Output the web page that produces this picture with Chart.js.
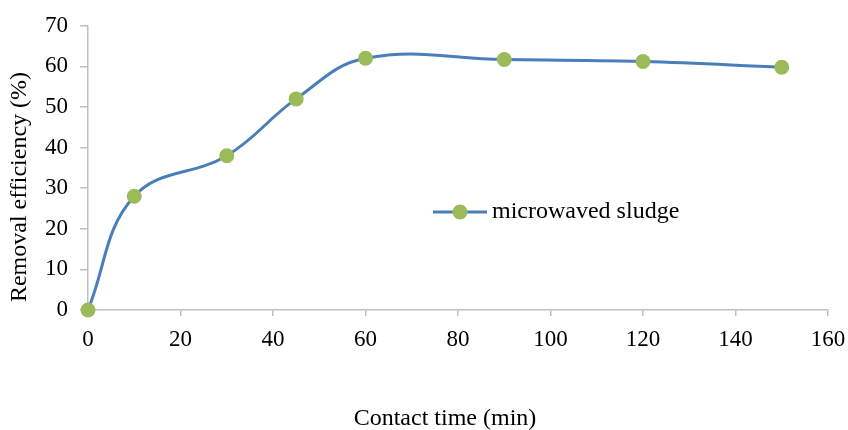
<!DOCTYPE html>
<html>
<head>
<meta charset="utf-8">
<script src="https://cdn.jsdelivr.net/npm/chart.js@4"></script>
<style>
  html, body { margin: 0; padding: 0; background: #fff; }
  #wrap { width: 848px; height: 430px; position: relative; }
</style>
</head>
<body>
<div id="wrap"><canvas id="chart"></canvas></div>
<script>
// contact time (min) and removal efficiency (%)
const times = [0, 10, 30, 45, 60, 90, 120, 150];
const efficiency = [0, 28, 38, 52, 62, 61.7, 61.2, 59.8];
const seriesName = 'microwaved sludge';
const xTitle = 'Contact time (min)';
const yTitle = 'Removal efficiency (%)';

const FONT = "'Liberation Serif', 'Times New Roman', serif";
const LINE = '#4a7ebb';
const MARK = '#9bbb59';
const AXIS = '#bfbfbf';

// titles + legend drawn in place, like the Excel original
const extras = {
  id: 'extras',
  afterDraw(chart) {
    const ctx = chart.ctx;
    ctx.save();
    ctx.fillStyle = '#000';
    ctx.font = '24px ' + FONT;
    ctx.textAlign = 'center';
    ctx.textBaseline = 'middle';
    ctx.fillText(xTitle, 445, 419);
    ctx.translate(20, 187);
    ctx.rotate(-Math.PI / 2);
    ctx.fillText(yTitle, 0, 0);
    ctx.restore();

    // legend
    const ds = chart.data.datasets[0];
    ctx.save();
    ctx.strokeStyle = ds.borderColor;
    ctx.lineWidth = 3;
    ctx.beginPath();
    ctx.moveTo(433, 212);
    ctx.lineTo(487, 212);
    ctx.stroke();
    ctx.fillStyle = ds.pointBackgroundColor;
    ctx.beginPath();
    ctx.arc(460, 212, 7.5, 0, Math.PI * 2);
    ctx.fill();
    ctx.fillStyle = '#000';
    ctx.font = '24px ' + FONT;
    ctx.textAlign = 'left';
    ctx.textBaseline = 'middle';
    ctx.fillText(ds.label, 492, 212);
    ctx.restore();
  }
};

new Chart(document.getElementById('chart'), {
  type: 'scatter',
  data: {
    datasets: [{
      label: seriesName,
      data: times.map((t, i) => ({ x: t, y: efficiency[i] })),
      showLine: true,
      clip: false,
      borderColor: LINE,
      borderWidth: 3,
      tension: 0.4,
      pointRadius: 7.5,
      pointBackgroundColor: MARK,
      pointBorderColor: MARK,
      pointBorderWidth: 0
    }]
  },
  options: {
    responsive: true,
    maintainAspectRatio: false,
    animation: false,
    layout: { padding: { left: 0, right: 20, top: 23, bottom: 0 } },
    plugins: { legend: { display: false }, tooltip: { enabled: false } },
    scales: {
      x: {
        type: 'linear', min: 0, max: 160,
        ticks: { stepSize: 20, color: '#000', font: { family: FONT, size: 23 }, padding: 10 },
        grid: { drawOnChartArea: false, color: AXIS, tickLength: 6, lineWidth: 1.5 },
        border: { color: AXIS, width: 1.5 },
        afterFit(s) { s.height = 120; s.paddingRight = 0; }
      },
      y: {
        min: 0, max: 70,
        ticks: { stepSize: 10, color: '#000', font: { family: FONT, size: 23 }, padding: 12 },
        grid: { drawOnChartArea: false, color: AXIS, tickLength: 8, lineWidth: 1.5 },
        border: { color: AXIS, width: 1.5 },
        afterFit(s) { s.width = 88; }
      }
    }
  },
  plugins: [extras]
});
</script>
</body>
</html>
